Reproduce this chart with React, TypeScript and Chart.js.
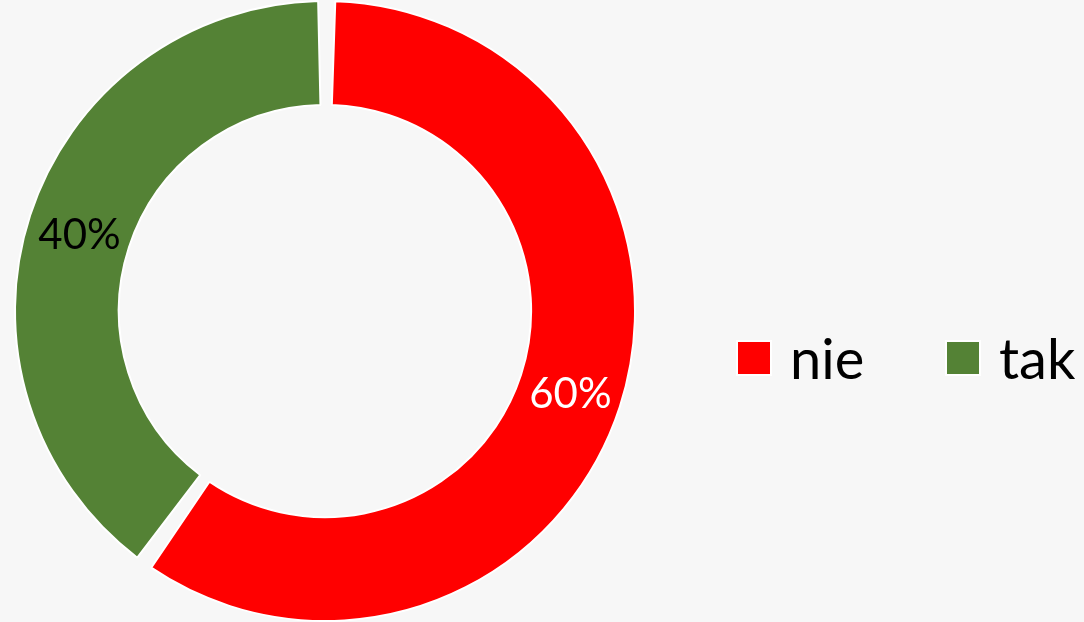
import React, { useEffect, useRef } from "react";
import { Chart, registerables } from "chart.js";

Chart.register(...registerables);

const categories = ["nie", "tak"];
const values = [60, 40];
const colors = ["#FF0000", "#548235"];
const labelColors = ["#FFFFFF", "#000000"];
const valueLabels = ["60%", "40%"];

const FONT = "Lato, 'Open Sans', sans-serif";

const labelPlugin = {
  id: "sliceLabels",
  afterDatasetsDraw(chart: any) {
    const ctx = chart.ctx;
    const meta = chart.getDatasetMeta(0);
    ctx.save();
    ctx.font = `42px ${FONT}`;
    ctx.textAlign = "center";
    ctx.textBaseline = "middle";
    meta.data.forEach((arc: any, i: number) => {
      const p = arc.tooltipPosition();
      ctx.fillStyle = labelColors[i];
      ctx.fillText(valueLabels[i], p.x, p.y + 4);
    });
    ctx.restore();
  },
};

export default function App() {
  const ref = useRef<HTMLCanvasElement>(null);
  useEffect(() => {
    if (!ref.current) return;
    const chart = new Chart(ref.current, {
      type: "doughnut",
      data: {
        labels: categories,
        datasets: [
          {
            data: values,
            backgroundColor: colors,
            borderColor: "#FFFFFF",
            borderWidth: 2,
            spacing: 9,
            hoverOffset: 0,
          },
        ],
      },
      options: {
        animation: false,
        responsive: false,
        cutout: "66%",
        layout: { padding: { left: 4, right: 438, top: -8, bottom: -8 } },
        plugins: {
          legend: { display: false },
          tooltip: { enabled: false },
        },
      },
      plugins: [labelPlugin],
    });
    return () => chart.destroy();
  }, []);

  const legendItem = (i: number, left: number) => (
    <div
      key={i}
      style={{
        position: "absolute",
        left,
        top: 322,
        height: 72,
        display: "flex",
        alignItems: "center",
      }}
    >
      <div style={{ width: 32, height: 32, background: colors[i], marginRight: 20, outline: "2px solid #fff" }} />
      <span style={{ fontFamily: FONT, fontSize: 56, color: "#000", lineHeight: "72px" }}>
        {categories[i]}
      </span>
    </div>
  );

  return (
    <div
      style={{
        position: "fixed",
        left: 0,
        top: 0,
        width: 1084,
        height: 622,
        background: "#f7f7f7",
        overflow: "hidden",
      }}
    >
      <canvas ref={ref} width={1084} height={622} style={{ position: "absolute", left: 0, top: 0 }} />
      {legendItem(0, 738)}
      {legendItem(1, 947)}
    </div>
  );
}
